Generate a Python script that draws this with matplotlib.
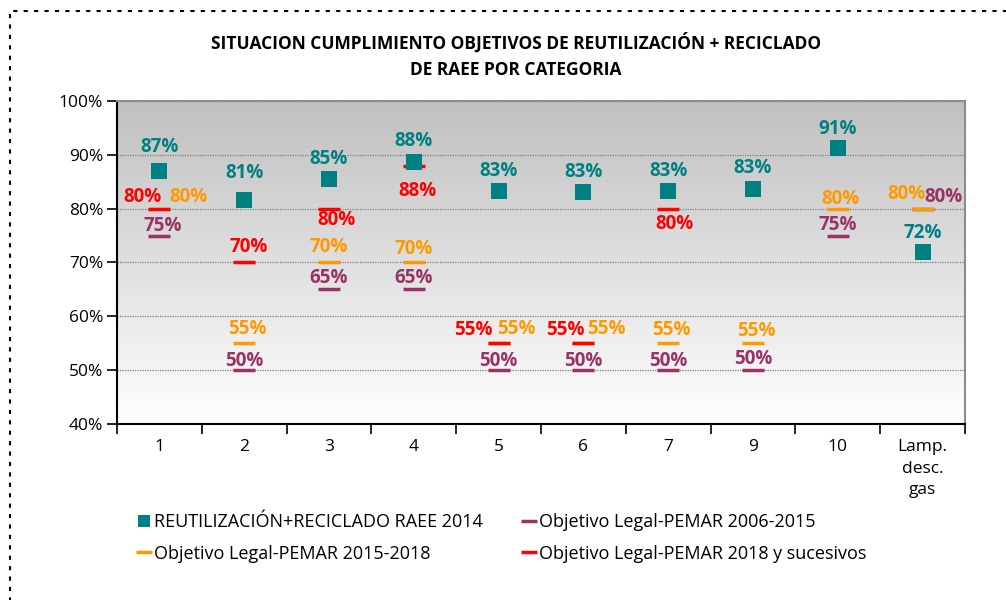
import numpy as np
import matplotlib.pyplot as plt
from matplotlib.patches import Rectangle
from matplotlib.colors import LinearSegmentedColormap
from matplotlib.ticker import FuncFormatter, FixedLocator

plt.rcParams['font.family'] = ['Open Sans', 'DejaVu Sans']

categories = ["1", "2", "3", "4", "5", "6", "7", "9", "10", "Lamp.\ndesc.\ngas"]
reciclado_2014 = [87.0, 81.6, 85.5, 88.6, 83.3, 83.1, 83.3, 83.6, 91.2, 71.9]
reciclado_labels = [87, 81, 85, 88, 83, 83, 83, 83, 91, 72]
pemar_2006_2015 = [75, 50, 65, 65, 50, 50, 50, 50, 75, 80]
pemar_2015_2018 = [80, 55, 70, 70, 55, 55, 55, 55, 80, 80]
pemar_2018 = [80, 70, 80, 88, 55, 55, 80, None, None, None]

TEAL = "#008080"
PURPLE = "#993366"
ORANGE = "#FF9900"
RED = "#FF0000"

# label offsets in pixels (dx, dy) per point
off_teal = [(0, 24), (0, 27), (0, 20), (0, 21), (0, 20), (0, 20), (0, 20), (0, 21), (0, 19), (0, 19)]
off_purple = [(3, 10), (0, 9), (0, 11), (0, 11), (0, 9), (0, 9), (0, 9), (0, 11), (0, 11), (21, 12)]
off_orange = [(29, 12), (3, 14), (0, 15), (0, 14), (18, 14), (23, 14), (3, 13), (3, 12), (3, 10), (-16, 15)]
off_red = [(-17, 12), (4, 15), (7, -11), (4, -25), (-25, 13), (-18, 13), (6, -15), None, None, None]

fig = plt.figure(figsize=(10.06, 6), dpi=100)
ax = fig.add_axes([117 / 1006, 1 - 424 / 600, 848 / 1006, 323 / 600])

x = np.arange(len(categories)) + 0.5
ax.set_xlim(0, len(categories))
ax.set_ylim(40, 100)

# gradient background
grad = np.linspace(0, 1, 256).reshape(-1, 1)
ax.imshow(grad, extent=[0, len(categories), 40, 100], aspect='auto', origin='lower',
          cmap=LinearSegmentedColormap.from_list('g', ['#ffffff', '#c0c0c0']), zorder=0)

for yv in range(50, 101, 10):
    ax.axhline(yv, color='#7f7f7f', linestyle=(0, (1, 1)), linewidth=0.9, zorder=1)

def draw_series(vals, color, marker, ms, mew, label):
    xs = [xi for xi, v in zip(x, vals) if v is not None]
    ys = [v for v in vals if v is not None]
    ax.plot(xs, ys, linestyle='none', marker=marker, markersize=ms, color=color,
            markeredgewidth=mew, label=label, zorder=3)

draw_series(pemar_2006_2015, PURPLE, '_', 16, 2.5, "Objetivo Legal-PEMAR 2006-2015")
draw_series(pemar_2015_2018, ORANGE, '_', 16, 2.5, "Objetivo Legal-PEMAR 2015-2018")
draw_series(pemar_2018, RED, '_', 16, 2.5, "Objetivo Legal-PEMAR 2018 y sucesivos")
draw_series(reciclado_2014, TEAL, 's', 11.5, 0, "REUTILIZACIÓN+RECICLADO RAEE 2014")

def label_series(vals, texts, offs, color):
    for xi, v, t, o in zip(x, vals, texts, offs):
        if v is None:
            continue
        ax.annotate(f"{t}%", (xi, v), xytext=o, textcoords='offset pixels',
                    ha='center', va='center', color=color, fontsize=13.5,
                    fontweight='bold', zorder=4)

label_series(pemar_2006_2015, pemar_2006_2015, off_purple, PURPLE)
label_series(pemar_2015_2018, pemar_2015_2018, off_orange, ORANGE)
label_series(pemar_2018, pemar_2018, off_red, RED)
label_series(reciclado_2014, reciclado_labels, off_teal, TEAL)

ax.yaxis.set_major_locator(FixedLocator(range(40, 101, 10)))
ax.yaxis.set_major_formatter(FuncFormatter(lambda v, p: f"{int(v)}%"))
ax.set_xticks(x)
ax.set_xticklabels(categories, fontsize=12.5, linespacing=1.45)
ax.set_xticks(np.arange(len(categories) + 1), minor=True)
ax.tick_params(axis='x', which='major', length=0, pad=11)
ax.tick_params(axis='x', which='minor', length=7, width=1.2, direction='out')
ax.tick_params(axis='y', length=7, width=1.2, direction='out', labelsize=12.5, pad=3)

for s in ['left', 'bottom']:
    ax.spines[s].set_linewidth(1.5)
    ax.spines[s].set_color('black')
for s in ['top', 'right']:
    ax.spines[s].set_linewidth(1.5)
    ax.spines[s].set_color('#8c8c8c')

fig.text(0.513, 1 - 43 / 600, "SITUACION CUMPLIMIENTO OBJETIVOS DE REUTILIZACIÓN + RECICLADO",
         ha='center', va='center', fontsize=12.5, fontweight='bold')
fig.text(0.513, 1 - 70 / 600, "DE RAEE POR CATEGORIA",
         ha='center', va='center', fontsize=12.5, fontweight='bold')

handles, labels = ax.get_legend_handles_labels()
order = [3, 1, 0, 2]
fig.legend([handles[i] for i in order], [labels[i] for i in order],
           loc='upper left', bbox_to_anchor=(122 / 1006, 1 - 497 / 600), ncol=2,
           frameon=False, fontsize=13, handlelength=0.6, handletextpad=0.3,
           columnspacing=2.2, labelspacing=0.75, markerscale=0.7)

fig.add_artist(Rectangle((10 / 1006, -0.1), 1.2, 1 - 11 / 600 + 0.1, transform=fig.transFigure,
                         fill=False, edgecolor='black', linestyle=(0, (2, 3)), linewidth=1.5))

fig.savefig("out.png", dpi=100)
